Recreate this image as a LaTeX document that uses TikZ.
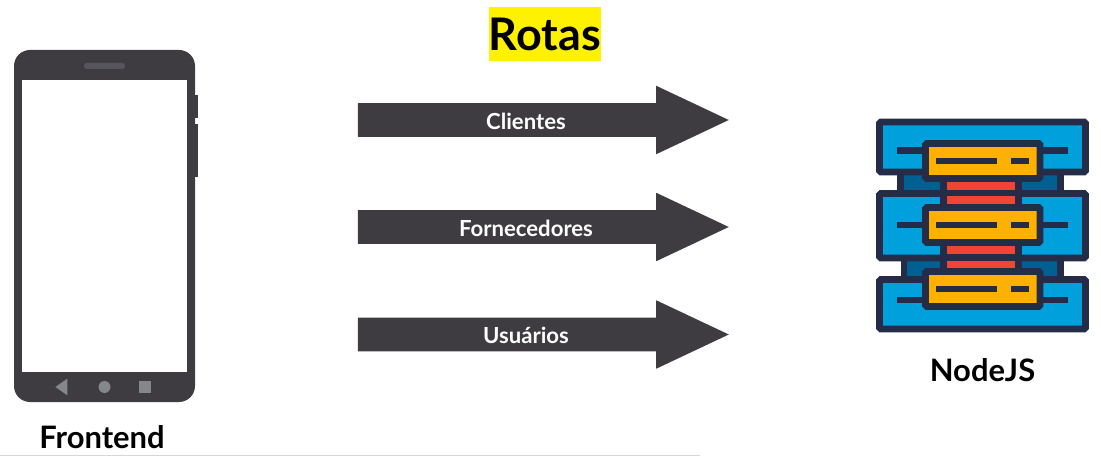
\documentclass[tikz,border=0pt]{standalone}
\usepackage{fontspec}
\setmainfont{Lato}
\usetikzlibrary{shapes.arrows, shapes.geometric, positioning}
\definecolor{slate}{RGB}{62,60,65}
\definecolor{speakergray}{RGB}{85,85,91}
\definecolor{navgray}{RGB}{132,136,138}
\definecolor{navy}{RGB}{37,44,72}
\definecolor{skyblue}{RGB}{0,160,220}
\definecolor{deepblue}{RGB}{0,96,146}
\definecolor{amber}{RGB}{255,176,0}
\definecolor{brickred}{RGB}{238,69,53}
\definecolor{rulegray}{RGB}{215,215,215}
\tikzset{
  routearrow/.style={single arrow, draw=none, fill=slate, inner sep=0pt, outer sep=0pt,
                     text height=24.75pt, text depth=0pt,
                     minimum height=278.25pt, minimum width=51pt,
                     single arrow head extend=13.1pt, single arrow tip angle=50.5},
  routelabel/.style={text=white, font=\fontsize{16.6pt}{18pt}\selectfont\bfseries, inner sep=0pt},
  caption/.style={text=black, font=\fontsize{23.2pt}{26pt}\selectfont\bfseries, inner sep=0pt},
  navmark/.style={fill=navgray, draw=none, inner sep=0pt},
  panel/.style={draw=navy, line width=4.9pt, fill=skyblue, rounded corners=1pt},
  backing/.style={draw=navy, line width=4.9pt, fill=deepblue},
  chip/.style={draw=navy, line width=4.9pt, fill=amber, rounded corners=1pt},
  wire/.style={draw=navy, line width=5pt},
}
\begin{document}
\begin{tikzpicture}[x=0.75pt, y=-0.75pt]
  \useasboundingbox (0,0) rectangle (1101,456);

  % Title
  \node[fill=yellow, text=black, font=\fontsize{33.7pt}{38pt}\selectfont\bfseries,
        minimum width=84pt, minimum height=40.5pt, inner sep=0pt] (rotas) at (545,34) {Rotas};

  % Phone
  \fill[slate] (195,95) rectangle (198,118);
  \fill[slate] (195,124) rectangle (198,177);
  \node[fill=slate, rounded corners=12pt, minimum width=135.75pt, minimum height=264pt,
        inner sep=0pt] (phone) at (104.5,226) {};
  \node[fill=white, minimum width=123.75pt, minimum height=219pt, inner sep=0pt] (screen) at (phone.center) {};
  \node[fill=speakergray, rounded corners=2pt, minimum width=30.75pt, minimum height=4.5pt,
        inner sep=0pt] (speaker) at (104.5,66) {};
  \node[navmark, isosceles triangle, isosceles triangle apex angle=70, shape border rotate=180,
        minimum height=9pt, minimum width=9pt] (navback) at (63,387) {};
  \node[navmark, circle, minimum size=9pt] (navhome) at (104.5,387) {};
  \node[navmark, minimum size=9pt] (navmenu) at (145,387) {};
  \node[caption] (frontend) at (102,437) {Frontend};

  % Route arrows
  \node[routearrow] (clientes) at (525.5,120) {};
  \node[routearrow] (fornecedores) at (525.5,227) {};
  \node[routearrow] (usuarios) at (525.5,334.5) {};
  \node[routelabel] (clienteslabel) at (526,121) {Clientes};
  \node[routelabel] (fornecedoreslabel) at (526,228.5) {Fornecedores};
  \node[routelabel] (usuarioslabel) at (526,335.5) {Usuários};

  % Server backing plates
  \draw[backing] (900.5,170) rectangle (1060.5,195);
  \draw[backing] (904,256) rectangle (1060.5,281);

  % Server panels
  \foreach \ytop/\ybot in {122/172, 193.5/258, 279.5/329}
    \draw[panel] (879.5,\ytop) rectangle (1085.5,\ybot);

  % Server core
  \foreach \ytop in {178.5, 243}{
    \draw[draw=navy, line width=4.9pt, fill=brickred] (943.5,\ytop) rectangle (1018.5,\ytop+29);
    \draw[wire] (943.5,\ytop+14.5) -- (1018.5,\ytop+14.5);
  }

  % Server chips
  \foreach \ytop/\ywire in {143.5/150.5, 207.5/225, 271.5/300}{
    \draw[wire] (897,\ywire) -- (1068,\ywire);
    \draw[chip] (925.5,\ytop) rectangle (1040,\ytop+35);
    \draw[wire] (936,\ytop+17.5) -- (997,\ytop+17.5);
    \draw[wire] (1011,\ytop+17.5) -- (1029,\ytop+17.5);
  }
  \node[caption] (nodejs) at (982.5,370) {NodeJS};

  % Bottom rule
  \draw[rulegray, line width=0.75pt] (0,455.5) -- (700,455.5);
\end{tikzpicture}
\end{document}
